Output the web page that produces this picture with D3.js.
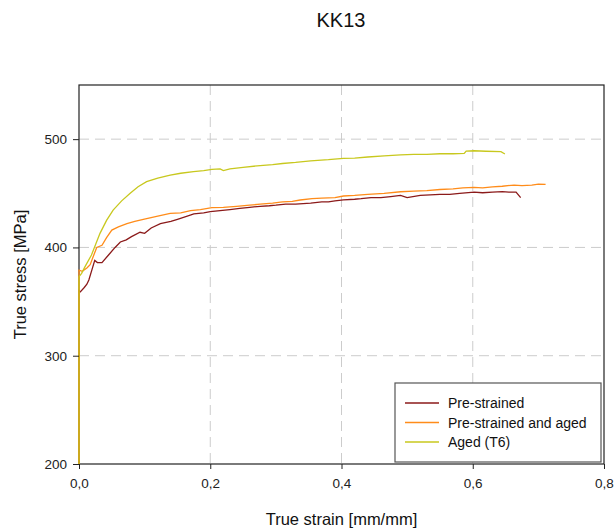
<!DOCTYPE html>
<html>
<head>
<meta charset="utf-8">
<script src="https://cdn.jsdelivr.net/npm/d3@7"></script>
<style>
  body { margin: 0; background: #fff; }
  svg { font-family: "Liberation Sans", Arial, sans-serif; }
</style>
</head>
<body>
<div id="chart-area"></div>
<script>
const margin = { left: 79, right: 11, top: 85, bottom: 65 },
  width = 615 - margin.left - margin.right,
  height = 529 - margin.top - margin.bottom;

const seriesNames = ["Pre-strained", "Pre-strained and aged", "Aged (T6)"];
const seriesColors = ["#8b1a1a", "#ff8c1a", "#c8c81e"];

const xTicks = [0, 0.2, 0.4, 0.6, 0.8];
const yTicks = [200, 300, 400, 500];

// Pre-strained
const strainPre = [0, 0, 0.002, 0.008, 0.012, 0.015, 0.02, 0.024, 0.028, 0.035, 0.045, 0.055, 0.063, 0.072, 0.08, 0.093, 0.1, 0.11, 0.124, 0.14, 0.15, 0.165, 0.175, 0.19, 0.2, 0.215, 0.23, 0.245, 0.26, 0.276, 0.29, 0.3, 0.315, 0.33, 0.353, 0.37, 0.38, 0.39, 0.403, 0.42, 0.43, 0.445, 0.46, 0.475, 0.49, 0.5, 0.52, 0.535, 0.55, 0.565, 0.58, 0.602, 0.615, 0.63, 0.645, 0.655, 0.666, 0.673];
const stressPre = [200, 360, 359, 363, 366, 370, 380, 388, 386, 386, 393, 400, 405, 407, 410, 414, 413, 418, 422, 424, 426, 429, 431, 432, 433, 434, 435, 436, 437, 438, 438.5, 439, 440, 440, 441, 442, 442, 443, 444, 444.5, 445, 446, 446, 447, 448, 446, 448, 448.5, 449, 449, 450, 451, 450.5, 451, 451.5, 451, 451, 446];

// Pre-strained and aged
const strainPsa = [0, 0, 0.005, 0.012, 0.017, 0.022, 0.027, 0.035, 0.042, 0.05, 0.06, 0.073, 0.085, 0.098, 0.12, 0.139, 0.155, 0.17, 0.185, 0.2025, 0.22, 0.24, 0.26, 0.276, 0.295, 0.31, 0.325, 0.337, 0.355, 0.37, 0.39, 0.403, 0.42, 0.44, 0.465, 0.49, 0.51, 0.53, 0.55, 0.57, 0.585, 0.602, 0.615, 0.63, 0.645, 0.663, 0.675, 0.69, 0.7, 0.711];
const stressPsa = [200, 379, 378, 381, 384, 392, 400, 402, 409, 416, 419, 422, 424, 426, 429, 431.5, 432, 434, 435, 436.8, 437, 438, 439, 440, 441, 442, 442.5, 443.8, 445, 445.5, 446, 447.5, 448, 449, 450, 451.4, 452, 452.5, 453.5, 454, 455, 455.4, 455, 456, 456.5, 457.6, 457, 457.5, 458.5, 458.2];

// Aged (T6)
const strainT6 = [0, 0, 0.004, 0.009, 0.019, 0.032, 0.042, 0.052, 0.065, 0.078, 0.09, 0.103, 0.12, 0.139, 0.155, 0.1745, 0.19, 0.2025, 0.215, 0.22, 0.23, 0.25, 0.276, 0.295, 0.31, 0.33, 0.353, 0.38, 0.403, 0.42, 0.44, 0.465, 0.49, 0.51, 0.53, 0.55, 0.57, 0.587, 0.59, 0.602, 0.62, 0.643, 0.649];
const stressT6 = [200, 373, 376, 382, 393, 413, 425, 434.5, 443, 450, 456, 460.7, 464, 466.8, 468.5, 470, 471, 472, 472.5, 471, 472.5, 474, 475.6, 476.5, 477.5, 478.5, 480, 481, 482.3, 482.5, 483.5, 484.5, 485.4, 486, 486, 486.5, 486.5, 486.9, 489, 489.3, 488.8, 488.4, 486.3];

const series = [
  { name: seriesNames[0], color: seriesColors[0], x: strainPre, y: stressPre },
  { name: seriesNames[1], color: seriesColors[1], x: strainPsa, y: stressPsa },
  { name: seriesNames[2], color: seriesColors[2], x: strainT6, y: stressT6 }
];

const svg = d3
  .select("#chart-area")
  .append("svg")
  .attr("width", 615)
  .attr("height", 529);

const g = svg.append("g").attr("transform", "translate(" + margin.left + ", " + margin.top + ")");

//scales
const x = d3.scaleLinear().domain([0, 0.8]).range([0, width]);
const y = d3.scaleLinear().domain([200, 550]).range([height, 0]);

//grid
g.selectAll(".vgrid")
  .data(xTicks.filter(d => d > 0 && d < 0.8))
  .enter()
  .append("line")
  .attr("x1", d => x(d))
  .attr("x2", d => x(d))
  .attr("y1", 0)
  .attr("y2", height)
  .attr("stroke", "#cccccc")
  .attr("stroke-dasharray", "10,6");

g.selectAll(".hgrid")
  .data(yTicks.filter(d => d > 200))
  .enter()
  .append("line")
  .attr("x1", 0)
  .attr("x2", width)
  .attr("y1", d => y(d))
  .attr("y2", d => y(d))
  .attr("stroke", "#cccccc")
  .attr("stroke-dasharray", "10,6");

//frame
g.append("rect")
  .attr("width", width)
  .attr("height", height)
  .attr("fill", "none")
  .attr("stroke", "#222")
  .attr("stroke-width", 1.2);

//curves
const line = d3.line()
  .x(d => x(d[0]))
  .y(d => y(d[1]));

series.forEach(s => {
  g.append("path")
    .datum(s.x.map((v, i) => [v, s.y[i]]))
    .attr("fill", "none")
    .attr("stroke", s.color)
    .attr("stroke-width", 1.3)
    .attr("d", line);
});

//x axis
const xAxisCall = d3.axisBottom(x)
  .tickValues(xTicks)
  .tickSize(5)
  .tickPadding(9)
  .tickFormat(d => d3.format(".1f")(d).replace(".", ","));
const xAxis = g.append("g")
  .attr("transform", "translate(0," + height + ")")
  .call(xAxisCall);
xAxis.select(".domain").remove();
xAxis.selectAll("text").style("font-size", "13.5px").attr("fill", "#222");
xAxis.selectAll("line").attr("stroke", "#222");

//y axis
const yAxisCall = d3.axisLeft(y)
  .tickValues(yTicks)
  .tickSize(6)
  .tickPadding(6)
  .tickFormat(d3.format("d"));
const yAxis = g.append("g").call(yAxisCall);
yAxis.select(".domain").remove();
yAxis.selectAll("text").style("font-size", "13.5px").attr("fill", "#222");
yAxis.selectAll("line").attr("stroke", "#222");

//labels
svg.append("text")
  .attr("x", 341)
  .attr("y", 27)
  .attr("text-anchor", "middle")
  .style("font-size", "20px")
  .attr("fill", "#111")
  .text("KK13");

svg.append("text")
  .attr("x", margin.left + width / 2)
  .attr("y", 525)
  .attr("text-anchor", "middle")
  .style("font-size", "16.5px")
  .attr("fill", "#111")
  .text("True strain [mm/mm]");

svg.append("text")
  .attr("transform", "translate(26," + (margin.top + height / 2) + ") rotate(-90)")
  .attr("text-anchor", "middle")
  .style("font-size", "16.5px")
  .attr("fill", "#111")
  .text("True stress [MPa]");

//legend
const legend = svg.append("g").attr("transform", "translate(395, 383)");
legend.append("rect")
  .attr("width", 206)
  .attr("height", 79)
  .attr("fill", "#fff")
  .attr("stroke", "#555")
  .attr("stroke-width", 1.2);

const items = legend.selectAll(".item")
  .data(series)
  .enter()
  .append("g")
  .attr("transform", (d, i) => "translate(0," + (20 + i * 19.5) + ")");
items.append("line")
  .attr("x1", 10)
  .attr("x2", 44)
  .attr("stroke", d => d.color)
  .attr("stroke-width", 1.3);
items.append("text")
  .attr("x", 53)
  .attr("y", 5)
  .style("font-size", "14px")
  .attr("fill", "#111")
  .text(d => d.name);
</script>
</body>
</html>
